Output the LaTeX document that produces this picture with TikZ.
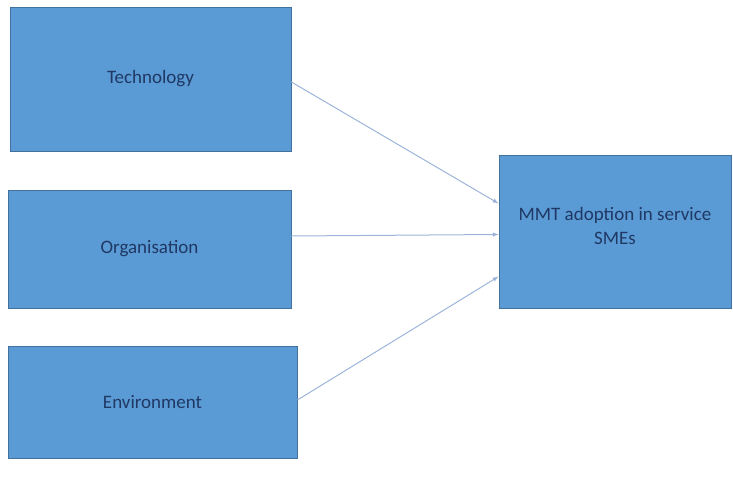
\documentclass[tikz,border=0pt]{standalone}
\usepackage{fontspec}
\setmainfont{Carlito}
\usetikzlibrary{positioning}

\definecolor{boxfill}{HTML}{5B9BD5}
\definecolor{boxline}{HTML}{41719C}
\definecolor{boxtext}{HTML}{1F3864}
\definecolor{arrowline}{HTML}{9DB4DA}

\tikzstyle{block} = [rectangle, draw=boxline, line width=0.8pt, fill=boxfill,
    text=boxtext, font=\fontsize{19}{24}\selectfont, text centered, inner sep=0pt]
\tikzstyle{line} = [draw=arrowline, line width=1pt, -latex]

\begin{document}
\begin{tikzpicture}[node distance=170pt, auto]
\useasboundingbox (0,0) rectangle (733pt,-487pt);

\node (Technology) [block, minimum width=281pt, minimum height=144pt] at (150.5pt,-79pt) {Technology};
\node (Organisation) [block, below of=Technology, minimum width=283pt, minimum height=118pt, xshift=-1pt]{Organisation};
\node (Environment) [block, below of=Organisation, node distance=153pt, minimum width=289pt, minimum height=112pt, xshift=3pt]{Environment};

%Right
\node (Adoption) [block, minimum width=232pt, minimum height=153pt, align=center] at (615pt,-231.5pt){MMT adoption in service\\SMEs\\[-12pt]};

\path [line]([yshift=-3pt]Technology.east)--([yshift=28pt]Adoption.west);
\path [line]([yshift=13pt]Organisation.east)--([yshift=-3pt]Adoption.west);
\path [line]([yshift=2pt]Environment.east)--([yshift=-45pt]Adoption.west);

\end{tikzpicture}
\end{document}
